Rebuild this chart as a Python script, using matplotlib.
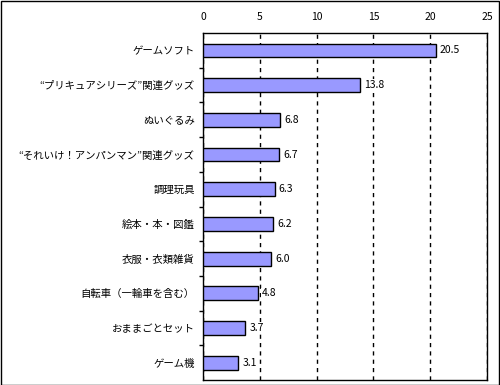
import matplotlib
matplotlib.use("Agg")
import matplotlib.pyplot as plt
from matplotlib.patches import Rectangle

plt.rcParams['font.family'] = ['Noto Sans CJK JP', 'DejaVu Sans']

categories = ["ゲームソフト", "“プリキュアシリーズ”関連グッズ", "ぬいぐるみ",
              "“それいけ！アンパンマン”関連グッズ", "調理玩具", "絵本・本・図鑑",
              "衣服・衣類雑貨", "自転車（一輪車を含む）", "おままごとセット", "ゲーム機"]
values = [20.5, 13.8, 6.8, 6.7, 6.3, 6.2, 6.0, 4.8, 3.7, 3.1]
xticks = [0, 5, 10, 15, 20, 25]

fig = plt.figure(figsize=(5, 3.85), dpi=100)
ax = fig.add_axes([0.406, 0.013, 0.568, 0.901])

y = list(range(len(categories)))
ax.barh(y, values, height=0.4, color="#9999FF", edgecolor="black", linewidth=1, zorder=3)
for yi, v in zip(y, values):
    ax.annotate(f"{v:.1f}", xy=(v, yi), xytext=(3, 0), textcoords="offset points",
                va="center", ha="left", fontsize=7.5, zorder=4,
                bbox=dict(facecolor="white", edgecolor="none", pad=0.5))

ax.set_xlim(0, 25)
ax.set_ylim(len(categories) - 0.5, -0.5)
ax.set_xticks(xticks)
ax.xaxis.tick_top()
ax.tick_params(axis="x", length=0, labelsize=7.5, pad=8)
ax.set_yticks([i + 0.5 for i in range(len(categories) - 1)], minor=False)
ax.set_yticklabels([])
ax.set_yticks(y, minor=True)
ax.set_yticklabels(categories, minor=True, fontsize=7.5)
ax.tick_params(axis="y", which="major", length=3, direction="out", width=1)
ax.tick_params(axis="y", which="minor", length=0, pad=6)
ax.grid(axis="x", linestyle=(0, (3, 3)), color="black", linewidth=1, zorder=1)
for s in ax.spines.values():
    s.set_linewidth(1)
    s.set_color("black")

fig.add_artist(Rectangle((0.001, 0.001), 0.996, 0.996, transform=fig.transFigure,
                         fill=False, edgecolor="black", linewidth=1))

fig.savefig("out.png", dpi=100)
